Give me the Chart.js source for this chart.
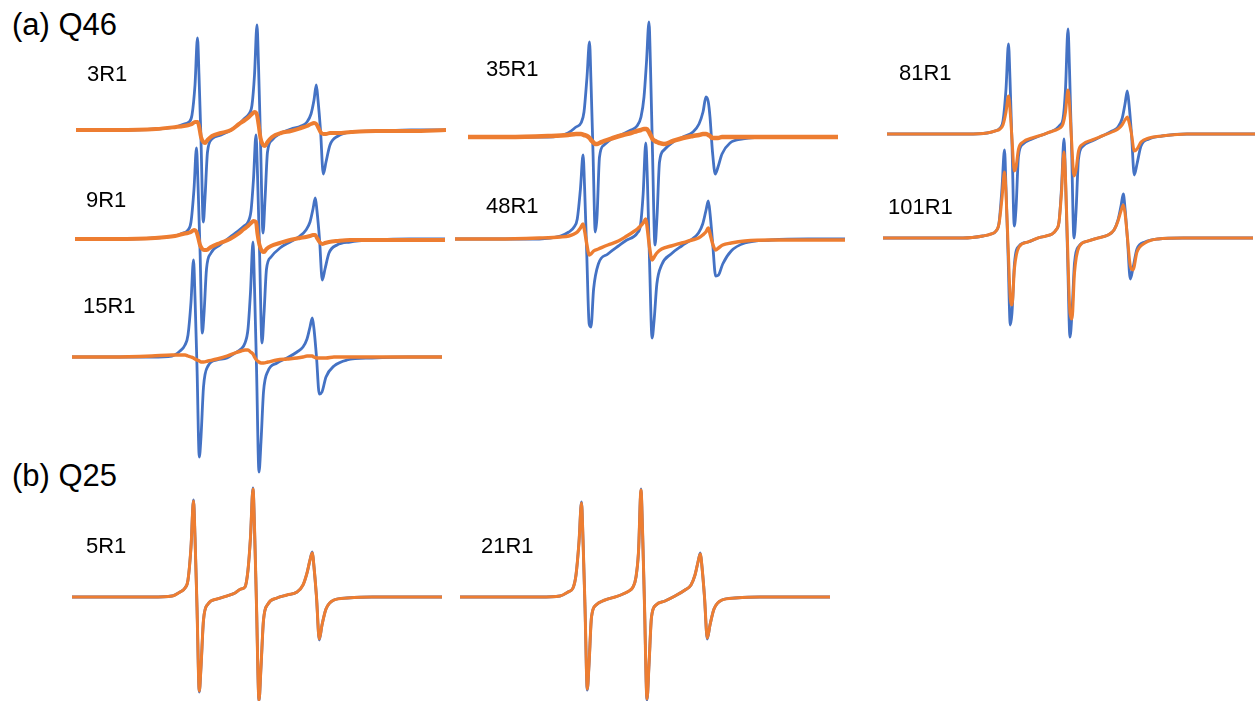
<!DOCTYPE html>
<html>
<head>
<meta charset="utf-8">
<script src="https://cdn.jsdelivr.net/npm/chart.js@4.4.0/dist/chart.umd.min.js"></script>
<style>
html, body { margin:0; padding:0; width:1255px; height:701px; overflow:hidden; background:#fff; }
#stage { position:relative; width:1255px; height:701px; overflow:hidden; font-family:"Liberation Sans", Arial, sans-serif; color:#000; }
.panel { position:absolute; }
.title { position:absolute; font-size:31px; line-height:31px; white-space:nowrap; }
.lbl { position:absolute; font-size:22px; line-height:22px; white-space:nowrap; }
</style>
</head>
<body>
<div id="stage"></div>
<script>
// ---- Data (magnetic-field sweep positions and derivative intensities) ----
const field = [0,40,80,100,108, 113,116,119,121.5,123, 125,127.3,129,131.5,136, 145,155,163,169,173,
  176,178.5,181,182.5,184.5, 187,189,191.5,196,205, 215,225,231,235,238, 240.3,242,244.5,247.3,250,
  254,262,275,300,335, 370];

const panelTitles = ["(a) Q46", "(b) Q25"];
const spectrumNames = ["3R1","9R1","15R1","35R1","48R1","81R1","101R1","5R1","21R1"];

const blue3R1 = [0,0,1,3,6, 8,15,45,92,55, -10,-92,-68,-22,-9, -5,0,6,12,16, 25,55,105,65,-10, -103,-70,-22,-10,-3, 1,4,8,16,30, 45,30,0,-44,-32, -15,-6,-2,-1,0, 0];
const orange3R1 = [0,0,1,3,4, 5,6,8,8,4, -7,-12,-13,-10,-6, -3,0,6,10,13, 16,18,15,6,-8, -15,-16,-12,-7,-3, -1,2,4,6,7, 6,3,-2,-4,-4, -3,-3,-2,-1,-1, 0];
const blue9R1 = [0,0,1,3,6, 9,17,50,91,55, -10,-94,-75,-30,-14, -6,2,8,13,17, 28,60,104,65,-10, -104,-75,-30,-18,-9, -3,3,9,17,30, 41,28,0,-41,-30, -14,-6,-3,-1,0, 0];
const orange9R1 = [0,0,1,3,5, 6,7,9,7,2, -6,-10,-11,-11,-8, -4,0,5,10,13, 16,18,17,5,-6, -12,-13,-10,-7,-4, -1,1,2,3,4, 4,1,-3,-5,-4, -3,-2,-1,-1,-1, -1];
const blue15R1 = [0,0,0,1,6, 12,22,55,97,60, -10,-100,-80,-30,-9, -3,-1,4,8,14, 28,65,115,70,-10, -115,-85,-35,-14,-6, -1,5,10,18,30, 39,28,0,-37,-35, -20,-9,-3,-1,0, 0];
const orange15R1 = [0,0,1,2,2, 2,1,0,-1,-2, -3,-4,-5,-5,-4, -2,1,4,6,7, 7,5,3,0,-3, -5,-6,-6,-5,-3, -2,-1,0,1,1, 1,0,-1,-1,-1, -1,0,0,0,0, 0];
const blue35R1 = [0,0,0,4,10, 14,25,60,95,55, -15,-95,-80,-20,-8, -1,3,7,11,20, 40,75,115,70,-15, -108,-80,-25,-13,-5, 0,5,13,25,40, 35,20,-15,-37,-30, -17,-6,-2,0,0, 0];
const orange35R1 = [0,0,1,2,3, 3,2,1,-1,-3, -5,-7,-7,-6,-4, -1,2,4,6,7, 8,8,5,2,-2, -4,-5,-6,-7,-4, -1,1,2,3,3, 2,1,-1,-1,-1, 0,0,0,0,0, 0];
const blue48R1 = [0,0,0,3,7, 12,20,50,84,50, -15,-85,-88,-50,-25, -15,-7,-1,2,6, 14,45,96,60,-20, -99,-80,-45,-26,-15, -7,0,6,15,28, 38,25,-5,-37,-36, -25,-12,-4,-1,0, 0];
const orange48R1 = [0,0,1,2,3, 5,7,11,15,8, -5,-16,-15,-12,-10, -6,-2,3,7,10, 13,16,20,10,-8, -21,-18,-14,-10,-7, -4,-1,1,4,7, 11,5,-5,-11,-9, -6,-4,-2,-1,-1, -1];
const blue81R1 = [0,0,0,1,3, 6,13,45,90,55, -10,-92,-75,-22,-10, -5,-1,2,5,9, 15,45,105,65,-10, -104,-78,-25,-12,-7, -2,3,7,15,30, 43,30,0,-41,-30, -12,-5,-2,0,0, 0];
const orange81R1 = [0,0,0,1,3, 5,9,22,38,25, -5,-37,-33,-15,-8, -4,-1,2,4,6, 10,22,44,30,-5, -42,-36,-17,-10,-6, -2,2,5,9,14, 17,12,0,-17,-15, -8,-4,-2,0,0, 0];
const blue101R1 = [0,0,0,2,4, 7,15,50,88,50, -15,-87,-75,-25,-8, -4,0,2,4,8, 16,50,99,60,-15, -99,-75,-25,-8,-3, 0,3,8,18,32, 44,30,-2,-41,-30, -11,-4,-1,0,0, 0];
const orange101R1 = [0,0,0,2,4, 7,14,40,66,45, -5,-60,-67,-30,-9, -4,0,2,4,8, 16,45,86,60,-5, -75,-81,-35,-9,-3, 0,3,8,17,27, 33,25,0,-28,-32, -14,-5,-1,0,0, 0];
const blue5R1 = [0,0,0,1,5, 9,17,50,97,60, -10,-95,-70,-23,-7, -2,1,4,8,10, 27,60,109,70,-8, -104,-70,-23,-7,-1, 2,5,12,24,37, 45,30,0,-43,-28, -12,-3,-1,0,0, 0];
const orange5R1 = [0,0,0,1,5, 9,17,50,96,60, -10,-94,-70,-23,-7, -2,1,4,8,10, 27,60,108,70,-8, -103,-70,-23,-7,-1, 2,5,12,24,37, 44,30,0,-42,-28, -12,-3,-1,0,0, 0];
const blue21R1 = [0,0,0,1,5, 9,22,55,95,58, -10,-93,-68,-20,-8, -3,0,3,6,10, 20,45,108,68,-8, -103,-68,-20,-8,-4, 1,7,12,22,35, 44,30,0,-42,-28, -12,-3,-1,0,0, 0];
const orange21R1 = [0,0,0,1,5, 9,22,55,94,58, -10,-92,-68,-20,-8, -3,0,3,6,10, 20,45,107,68,-8, -102,-68,-20,-8,-4, 1,7,12,22,35, 43,30,0,-41,-28, -12,-3,-1,0,0, 0];

// ---- Layout (positions / sizes / styles) ----
const BLUE = "#4472C4", ORANGE = "#ED7D31";
const titleLayout = [ {left:12, top:9}, {left:12, top:460} ];
const spectrumLayout = [
  {blue:blue3R1,   orange:orange3R1,   left:76,  base:130, width:370, ow:4,   lx:87,  ly:63},
  {blue:blue9R1,   orange:orange9R1,   left:75,  base:239, width:370, ow:4,   lx:86,  ly:189},
  {blue:blue15R1,  orange:orange15R1,  left:72,  base:357, width:370, ow:3.4, lx:83,  ly:295},
  {blue:blue35R1,  orange:orange35R1,  left:468, base:137, width:370, ow:4.5, lx:486, ly:58},
  {blue:blue48R1,  orange:orange48R1,  left:455, base:239, width:390, ow:3.4, lx:486, ly:195},
  {blue:blue81R1,  orange:orange81R1,  left:887, base:134, width:370, ow:3,   lx:899, ly:62},
  {blue:blue101R1, orange:orange101R1, left:883, base:238, width:370, ow:3,   lx:888, ly:196},
  {blue:blue5R1,   orange:orange5R1,   left:72,  base:597, width:370, ow:3,   lx:86,  ly:535},
  {blue:blue21R1,  orange:orange21R1,  left:460, base:597, width:370, ow:3,   lx:481, ly:535}
];
const HALF = 130;

const stage = document.getElementById("stage");
panelTitles.forEach((t, i) => {
  const d = document.createElement("div");
  d.className = "title";
  d.textContent = t;
  d.style.left = titleLayout[i].left + "px";
  d.style.top = titleLayout[i].top + "px";
  stage.appendChild(d);
});

spectrumLayout.forEach((s, i) => {
  const wrap = document.createElement("div");
  wrap.className = "panel";
  wrap.style.left = s.left + "px";
  wrap.style.top = (s.base - HALF) + "px";
  wrap.style.width = s.width + "px";
  wrap.style.height = (2 * HALF) + "px";
  const cv = document.createElement("canvas");
  wrap.appendChild(cv);
  stage.appendChild(wrap);

  const toPts = arr => field.map((f, k) => ({x: f, y: arr[k]}));
  new Chart(cv, {
    type: "line",
    data: {
      datasets: [
        {label: spectrumNames[i] + " orange", data: toPts(s.orange), borderColor: ORANGE, borderWidth: s.ow,
         pointRadius: 0, fill: false, cubicInterpolationMode: "monotone", clip: false, borderJoinStyle: "round"},
        {label: spectrumNames[i] + " blue", data: toPts(s.blue), borderColor: BLUE, borderWidth: 2.8,
         pointRadius: 0, fill: false, cubicInterpolationMode: "monotone", clip: false, borderJoinStyle: "round"}
      ]
    },
    options: {
      responsive: true, maintainAspectRatio: false, animation: false, devicePixelRatio: 1,
      layout: {padding: 0},
      events: [],
      plugins: {legend: {display: false}, tooltip: {enabled: false}, title: {display: false}},
      scales: {
        x: {type: "linear", min: 0, max: 370, display: false},
        y: {type: "linear", min: -HALF, max: HALF, display: false}
      }
    }
  });

  const l = document.createElement("div");
  l.className = "lbl";
  l.textContent = spectrumNames[i];
  l.style.left = s.lx + "px";
  l.style.top = s.ly + "px";
  stage.appendChild(l);
});
</script>
</body>
</html>
